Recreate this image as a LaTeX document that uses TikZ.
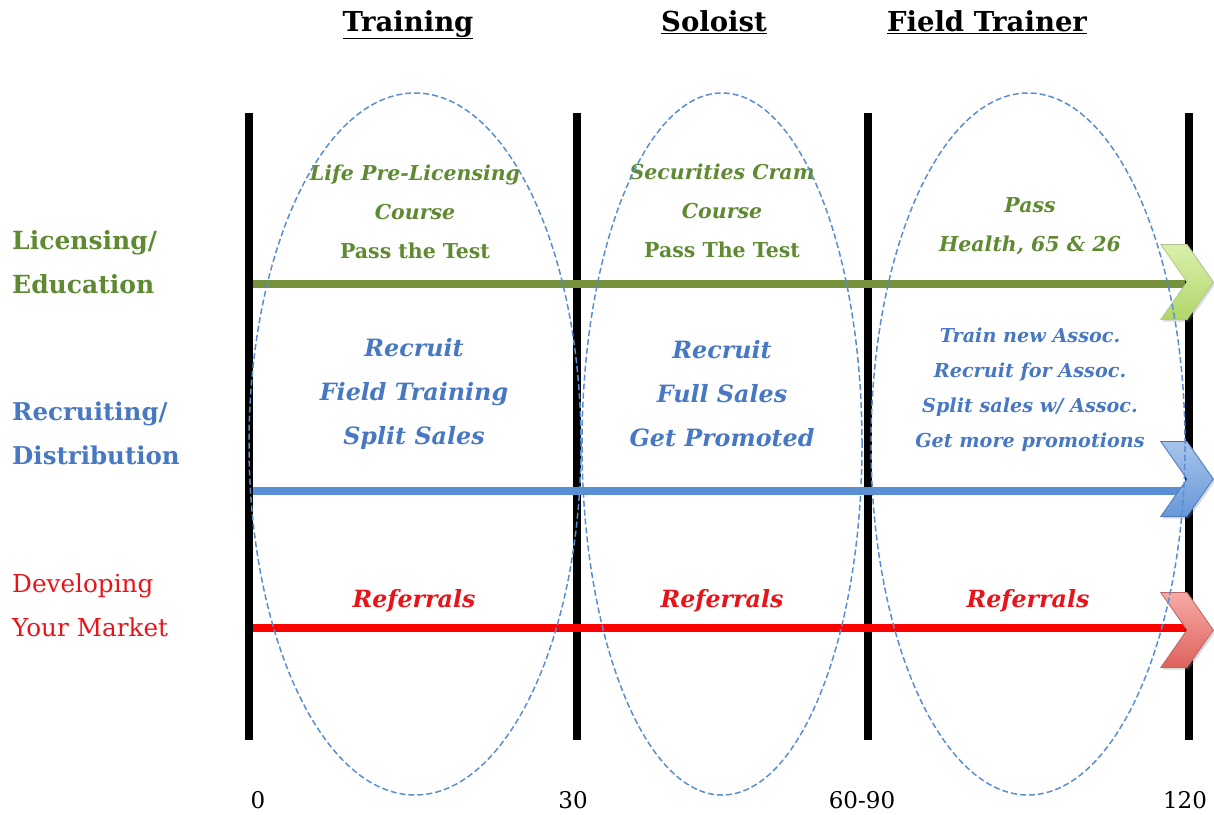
\documentclass[tikz,border=0pt]{standalone}
\usepackage{fontspec}
\setmainfont{DejaVu Serif}
\usetikzlibrary{positioning, shapes.geometric, shapes.symbols, shadows}
\definecolor{licgreen}{HTML}{5F8A32}
\definecolor{licline}{HTML}{76923C}
\definecolor{recblue}{HTML}{4878C2}
\definecolor{recline}{HTML}{5B8FD3}
\definecolor{mktred}{HTML}{E8141A}
\definecolor{ovalblue}{HTML}{5A8ED0}

\begin{document}
\begin{tikzpicture}[x=1pt, y=-1pt,
        head/.style={anchor=base, font=\bfseries\fontsize{27.5}{32}\selectfont},
        side/.style={anchor=west, align=left, inner sep=0pt},
        lic/.style={align=center, text=licgreen, font=\bfseries\fontsize{20.5}{39}\selectfont},
        rec/.style={align=center, text=recblue, font=\bfseries\itshape\fontsize{23.8}{44}\selectfont},
        recsmall/.style={align=center, text=recblue, font=\bfseries\itshape\fontsize{19.2}{35}\selectfont},
        ref/.style={text=mktred, font=\bfseries\itshape\fontsize{23.7}{28}\selectfont},
        tick/.style={font=\fontsize{23}{27}\selectfont},
        bar/.style={line width=8pt},
        track/.style={line width=8pt},
        phase/.style={ellipse, draw=ovalblue, dashed, dash pattern=on 6pt off 3pt, line width=1.5pt, inner sep=0pt},
        chev/.style={signal, signal to=east, signal from=west, signal pointer angle=110,
            minimum width=48pt, minimum height=75pt, inner sep=0pt, line width=0.8pt,
            drop shadow={opacity=0.3, shadow xshift=2pt, shadow yshift=-2pt}}
    ]
        \useasboundingbox (0,0) rectangle (1214,814);

        % Headings
        \node[head] (htrain) at (408,31) {\underline{Training}};
        \node[head] (hsolo) at (714,31) {\underline{Soloist}};
        \node[head] (hfield) at (987,31) {\underline{Field Trainer}};

        % Time bars
        \foreach \x/\n in {249/b0, 577/b30, 868/b60, 1189/b120} {
            \coordinate (\n-top) at (\x,113);
            \coordinate (\n-bot) at (\x,740);
            \draw[bar] (\n-top) -- (\n-bot);
        }

        % Tracks
        \coordinate (lic-start) at (253,284);
        \coordinate (lic-end) at (1185,284);
        \coordinate (rec-start) at (253,491);
        \coordinate (rec-end) at (1185,491);
        \coordinate (mkt-start) at (253,628);
        \coordinate (mkt-end) at (1185,628);
        \draw[track, licline] (lic-start) -- (lic-end);
        \draw[track, recline] (rec-start) -- (rec-end);
        \draw[track, red] (mkt-start) -- (mkt-end);

        % Arrow heads
        \node[chev, draw=licline!55, top color={rgb,255:red,218;green,240;blue,172}, bottom color={rgb,255:red,176;green,214;blue,104}] (licarrow) at (1187,282) {};
        \node[chev, draw=recblue, top color={rgb,255:red,166;green,196;blue,236}, bottom color={rgb,255:red,104;green,152;blue,216}] (recarrow) at (1187,479) {};
        \node[chev, draw=red!55!black!60, top color={rgb,255:red,246;green,170;blue,166}, bottom color={rgb,255:red,222;green,98;blue,92}] (mktarrow) at (1187,630) {};

        % Row labels
        \node[side, text=licgreen, font=\bfseries\fontsize{25}{44}\selectfont] (llic) at (12,262) {Licensing/\\Education};
        \node[side, text=recblue, font=\bfseries\fontsize{24.5}{44}\selectfont] (lrec) at (12,433) {Recruiting/\\Distribution};
        \node[side, text=mktred, font=\fontsize{24.7}{44}\selectfont] (lmkt) at (12,605) {Developing\\Your Market};

        % Licensing
        \node[lic] (lic1) at (415,212) {\textit{Life Pre-Licensing}\\\textit{Course}\\Pass the Test};
        \node[lic] (lic2) at (722,211) {\textit{Securities Cram}\\\textit{Course}\\Pass The Test};
        \node[lic] (lic3) at (1030,226) {\textit{Pass}\\\textit{Health, 65 \& 26}};

        % Recruiting
        \node[rec] (rec1) at (414,394) {Recruit\\Field Training\\Split Sales};
        \node[rec] (rec2) at (722,394) {Recruit\\Full Sales\\Get Promoted};
        \node[recsmall] (rec3) at (1030,390) {Train new Assoc.\\Recruit for Assoc.\\Split sales w/ Assoc.\\Get more promotions};

        % Market
        \node[ref] (mkt1) at (414,601) {Referrals};
        \node[ref] (mkt2) at (722,601) {Referrals};
        \node[ref] (mkt3) at (1028,601) {Referrals};

        % Months
        \node[tick] (m0) at (258,800) {0};
        \node[tick] (m30) at (573,800) {30};
        \node[tick] (m60) at (862,800) {60-90};
        \node[tick] (m120) at (1185,800) {120};

        % Phases
        \node[phase, minimum width=332pt, minimum height=702pt] (ptrain) at (415,444) {};
        \node[phase, minimum width=280pt, minimum height=702pt] (psolo) at (722,444) {};
        \node[phase, minimum width=314pt, minimum height=702pt] (pfield) at (1028,444) {};

    \end{tikzpicture}
\end{document}
